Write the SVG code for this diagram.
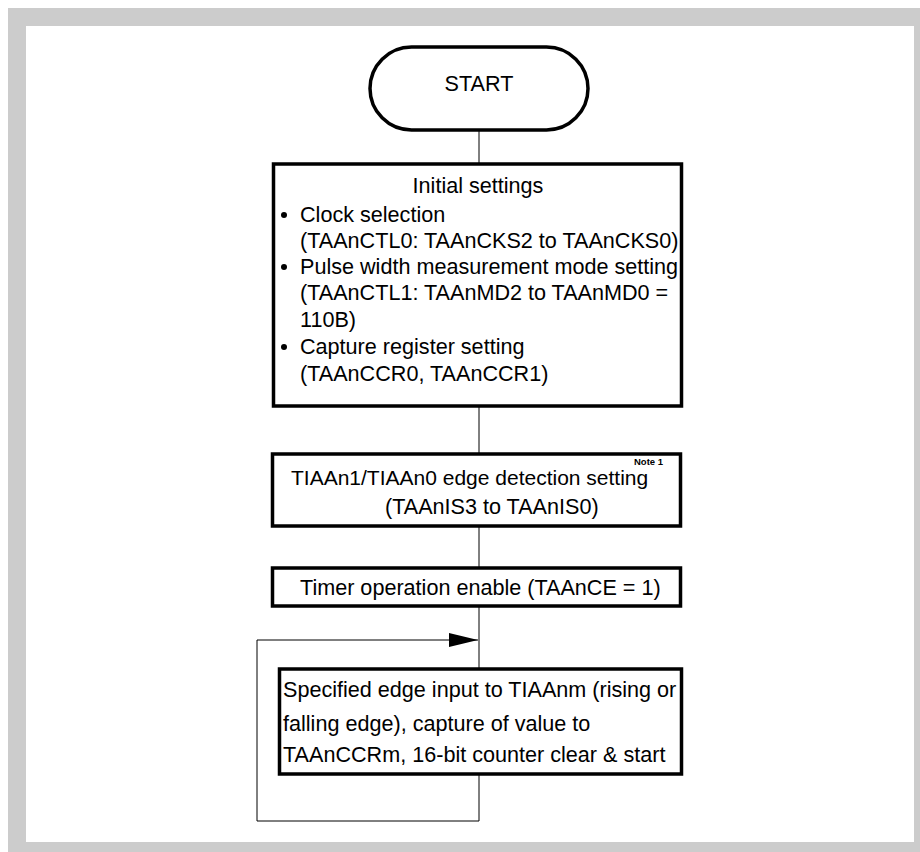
<svg xmlns="http://www.w3.org/2000/svg" width="920" height="852" viewBox="0 0 920 852">
<defs>
<style>
.box{fill:#fff;stroke:#000;stroke-width:3.5}
.ln{fill:none;stroke:#000;stroke-width:1}
.t{font-family:"Liberation Sans",Arial,sans-serif;font-size:21.6px;fill:#000}
.note{font-family:"Liberation Sans",Arial,sans-serif;font-size:9.5px;font-weight:bold;fill:#000}
</style>
<marker id="arr" markerWidth="30" markerHeight="14" refX="29" refY="7" orient="auto" markerUnits="userSpaceOnUse">
<path d="M0,0 L29,7 L0,14 Z" fill="#000"/>
</marker>
</defs>
<rect x="8" y="8" width="912" height="844" fill="#cccccc"/>
<rect x="26" y="26" width="888" height="816" fill="#ffffff"/>
<g id="connectors">
<line class="ln" x1="479" y1="130" x2="479" y2="164"/>
<line class="ln" x1="479" y1="406" x2="479" y2="454"/>
<line class="ln" x1="479" y1="526" x2="479" y2="568"/>
<line class="ln" x1="479" y1="606" x2="479" y2="669"/>
<path class="ln" d="M479,774 V821 H257 V640 H478" marker-end="url(#arr)"/>
</g>
<g id="start">
<rect class="box" x="370" y="47" width="218" height="83" rx="41.5" ry="41.5"/>
<text class="t" x="479" y="91" text-anchor="middle">START</text>
</g>
<g id="initial">
<rect class="box" x="273.5" y="164" width="408" height="242"/>
<text class="t" x="478" y="193" text-anchor="middle">Initial settings</text>
<circle cx="284" cy="215" r="3" fill="#000"/>
<text class="t" x="300" y="222">Clock selection</text>
<text class="t" x="300" y="248">(TAAnCTL0: TAAnCKS2 to TAAnCKS0)</text>
<circle cx="284" cy="267" r="3" fill="#000"/>
<text class="t" x="300" y="274">Pulse width measurement mode setting</text>
<text class="t" x="300" y="300">(TAAnCTL1: TAAnMD2 to TAAnMD0 =</text>
<text class="t" x="300" y="327">110B)</text>
<circle cx="284" cy="347" r="3" fill="#000"/>
<text class="t" x="300" y="354">Capture register setting</text>
<text class="t" x="300" y="381">(TAAnCCR0, TAAnCCR1)</text>
</g>
<g id="edge">
<rect class="box" x="272.5" y="454" width="408" height="72"/>
<text class="t" x="291" y="485" style="font-size:21px">TIAAn1/TIAAn0 edge detection setting</text>
<text class="note" x="634" y="465">Note 1</text>
<text class="t" x="385" y="514">(TAAnIS3 to TAAnIS0)</text>
</g>
<g id="enable">
<rect class="box" x="272.5" y="568" width="408" height="38"/>
<text class="t" x="300" y="595">Timer operation enable (TAAnCE = 1)</text>
</g>
<g id="capture">
<rect class="box" x="279.5" y="669" width="402" height="105"/>
<text class="t" x="283" y="697">Specified edge input to TIAAnm (rising or</text>
<text class="t" x="283" y="731">falling edge), capture of value to</text>
<text class="t" x="283" y="762">TAAnCCRm, 16-bit counter clear &amp; start</text>
</g>
</svg>
